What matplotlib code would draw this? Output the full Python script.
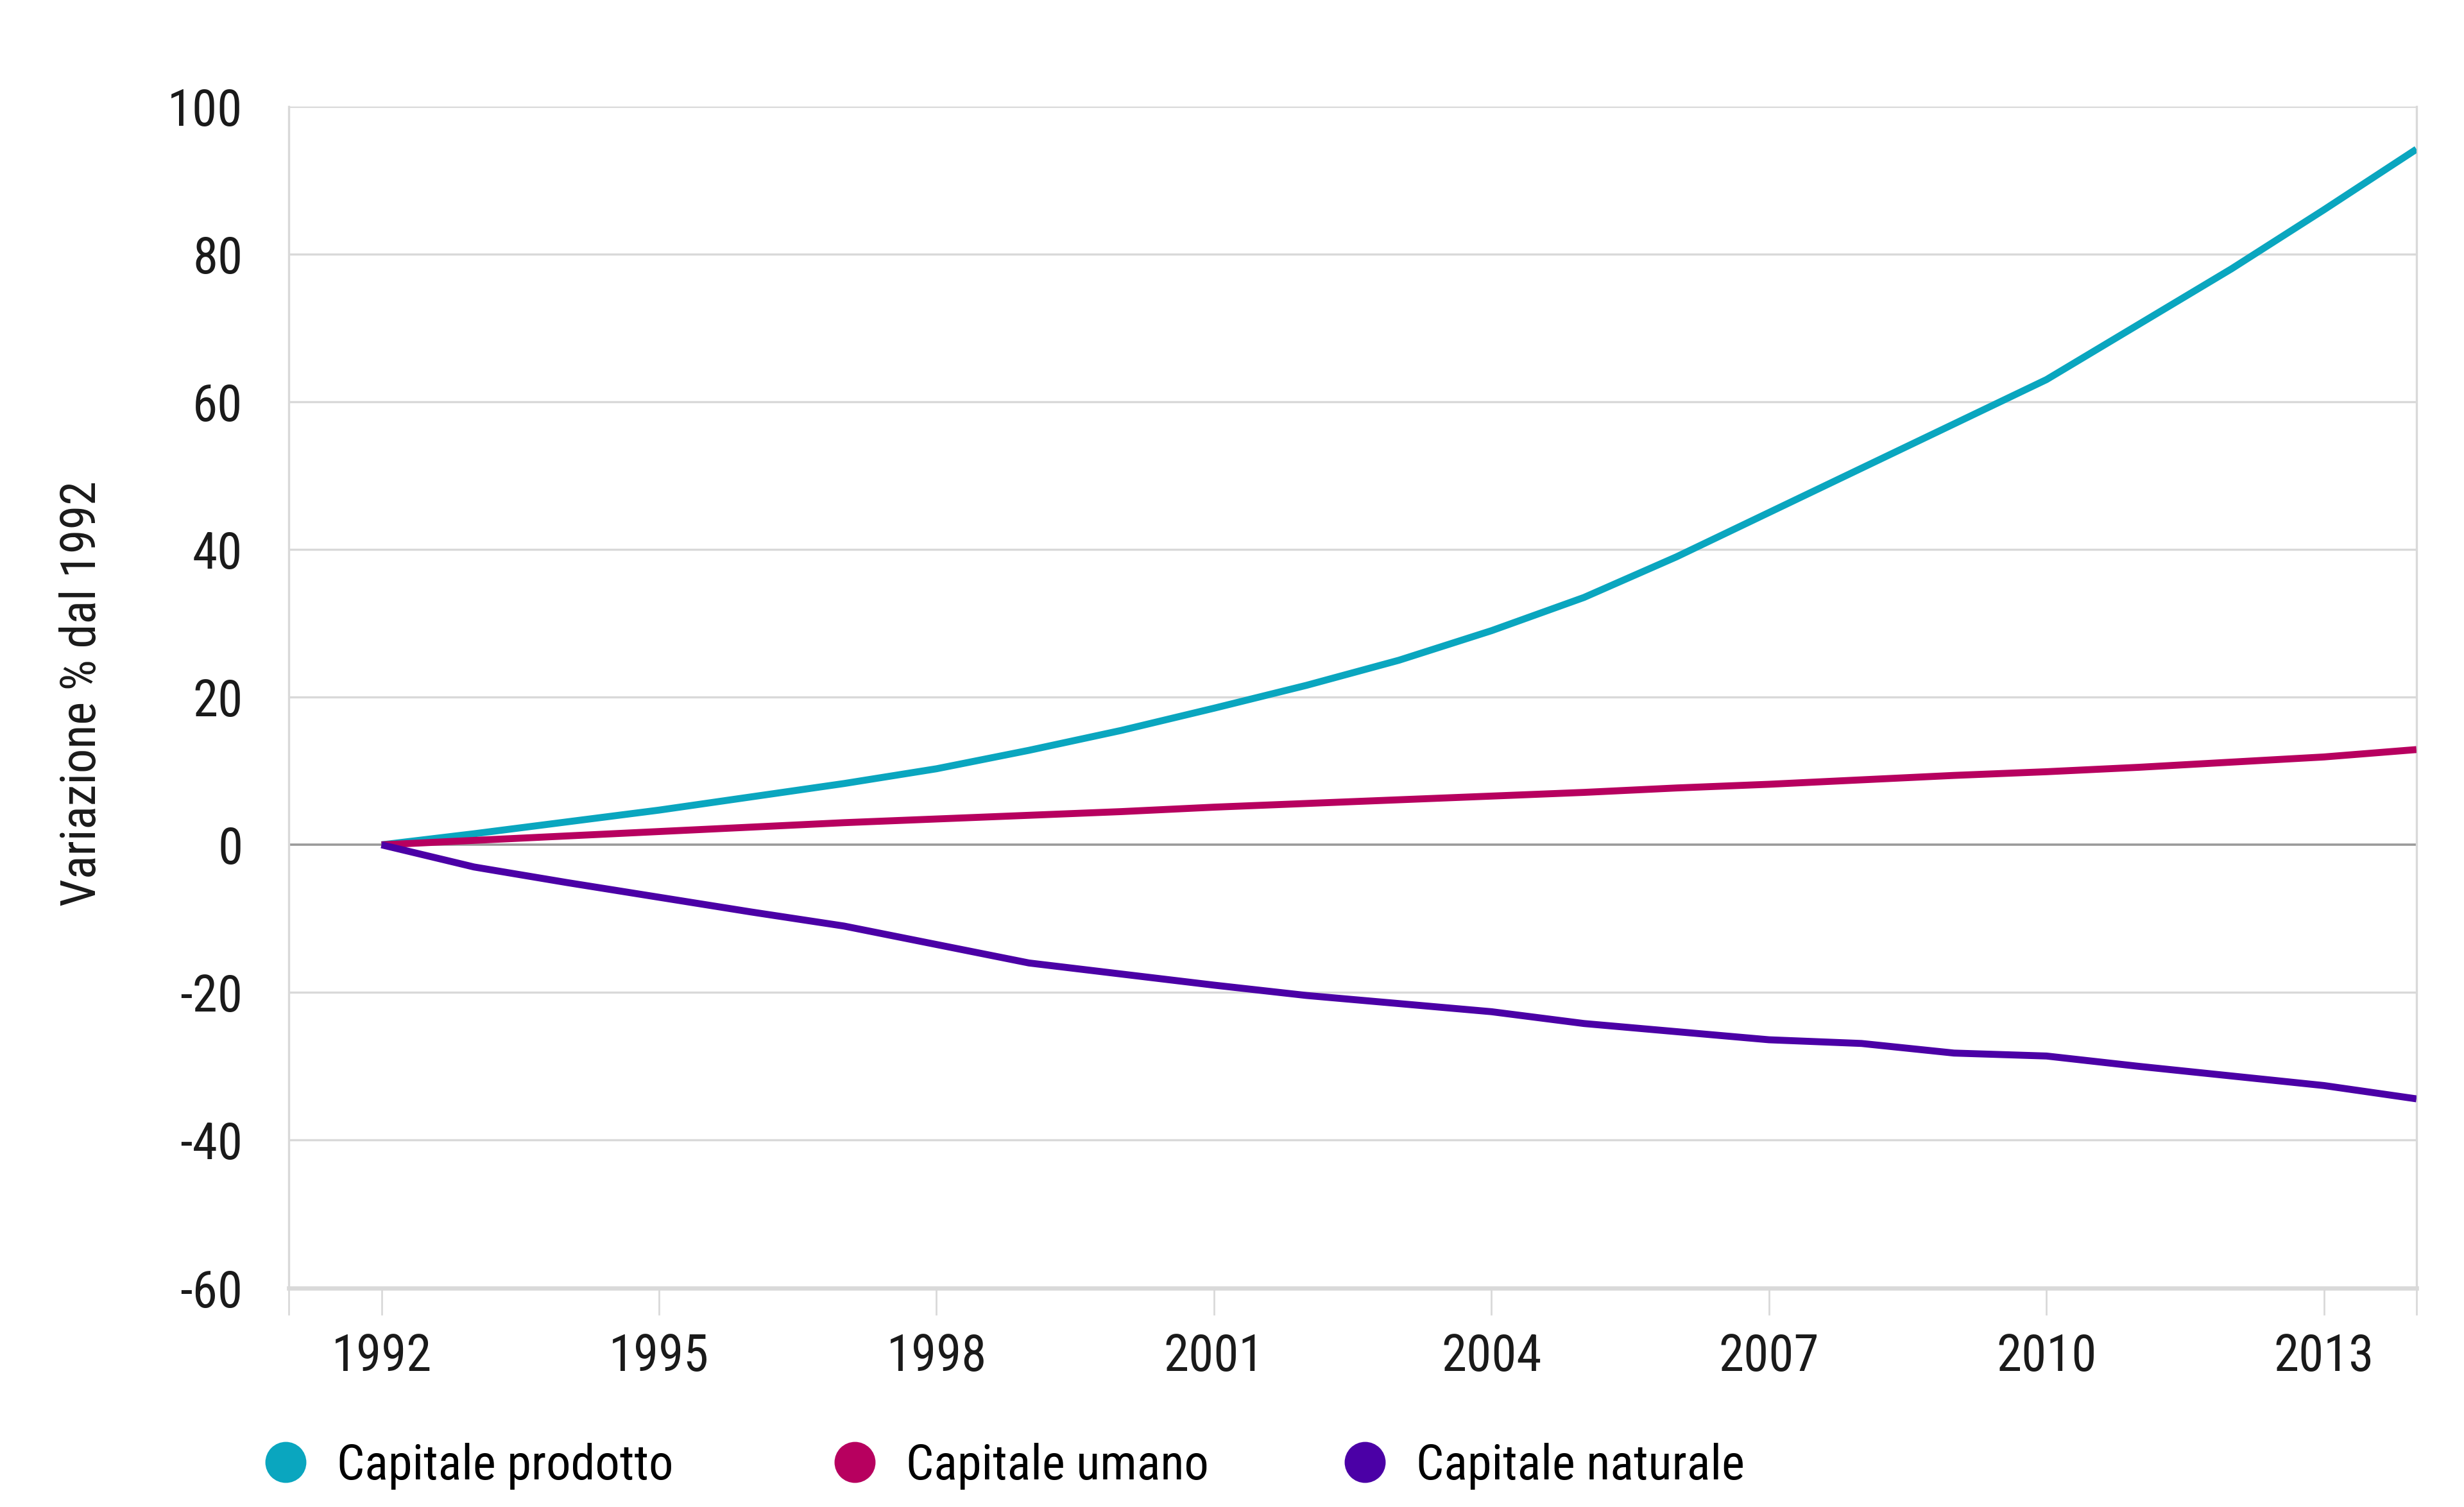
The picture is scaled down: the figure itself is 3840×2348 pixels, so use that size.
import matplotlib

matplotlib.use("Agg")
import matplotlib.pyplot as plt
from matplotlib.lines import Line2D

plt.rcParams["font.family"] = ["Roboto Condensed", "Liberation Sans Narrow", "Roboto", "DejaVu Sans"]

years = list(range(1992, 2015))

prodotto = [0, 1.5, 3.1, 4.7, 6.5, 8.3, 10.3, 12.8, 15.5, 18.5, 21.6, 25.0,
            29.0, 33.5, 39.0, 45.0, 51.0, 57.0, 63.0, 70.5, 78.0, 86.0, 94.2]
umano = [0, 0.6, 1.2, 1.8, 2.4, 3.0, 3.5, 4.0, 4.5, 5.1, 5.6, 6.1,
         6.6, 7.1, 7.7, 8.2, 8.8, 9.4, 9.9, 10.5, 11.2, 11.9, 12.9]
naturale = [0, -3.0, -5.1, -7.1, -9.1, -11.0, -13.5, -16.0, -17.5, -19.0, -20.4, -21.5,
            -22.6, -24.2, -25.3, -26.4, -26.9, -28.2, -28.6, -30.0, -31.3, -32.6, -34.4]

series = [
    ("Capitale prodotto", prodotto, "#0aa6bf"),
    ("Capitale umano", umano, "#b7005f"),
    ("Capitale naturale", naturale, "#4b00a6"),
]

year_ticks = [1991, 1992, 1995, 1998, 2001, 2004, 2007, 2010, 2013, 2014]
year_labels = ["", "1992", "1995", "1998", "2001", "2004", "2007", "2010", "2013", ""]
y_ticks = [-60, -40, -20, 0, 20, 40, 60, 80, 100]

GRID = "#d9d9d9"
FS = 28.5
FS_SMALL = 27.5

fig = plt.figure(figsize=(19.2, 11.74), dpi=200)
ax = fig.add_axes([0.1173, 0.1454, 0.8634, 0.7840])

for y in y_ticks:
    if y == 0:
        continue
    ax.axhline(y, color=GRID, lw=1.2, zorder=1)
ax.axhline(0, color="#9a9a9a", lw=1.3, zorder=2)

for name, vals, color in series:
    ax.plot(years, vals, color=color, lw=3.9, solid_capstyle="butt",
            solid_joinstyle="round", zorder=3)

ax.set_xlim(1991, 2014)
ax.set_ylim(-60, 100)
ax.set_xticks(year_ticks)
ax.set_xticklabels(year_labels)
ax.set_yticks(y_ticks)
ax.set_yticklabels([str(v) for v in y_ticks])

for side in ["top", "bottom"]:
    ax.spines[side].set_visible(False)
for side in ["left", "right"]:
    ax.spines[side].set_color(GRID)
    ax.spines[side].set_linewidth(1.2)
ax.axhline(-60, color=GRID, lw=2.4, zorder=1, clip_on=False)

ax.tick_params(axis="y", length=0, pad=26, labelsize=FS, labelcolor="#1a1a1a")
ax.tick_params(axis="x", length=15, width=1.0, color=GRID, pad=10,
               labelsize=FS, labelcolor="#1a1a1a")

fig.text(0.0335, 0.54, "Variazione % dal 1992", rotation=90, ha="center",
         va="center", fontsize=FS_SMALL, color="#1a1a1a")

# one legend per entry so each sits where the reference puts it
legend_x = [0.098, 0.329, 0.536]
for (name, _, color), x in zip(series, legend_x):
    handle = Line2D([], [], ls="", marker="o", markersize=23, color=color,
                    markeredgewidth=0)
    fig.legend([handle], [name], loc="center left", bbox_to_anchor=(x, 0.027),
               frameon=False, fontsize=FS_SMALL, handletextpad=0.55,
               handlelength=1.0, borderaxespad=0)

fig.savefig("out.png", dpi=200, facecolor="white")
